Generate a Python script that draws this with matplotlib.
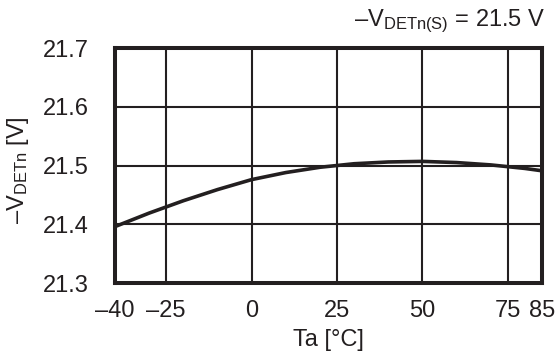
import matplotlib
matplotlib.use("Agg")
import matplotlib.pyplot as plt

# Detection voltage vs. ambient temperature
temp_c = [-40, -30, -20, -10, 0, 10, 20, 30, 40, 50, 60, 70, 80, 85]
vdet_v = [21.396, 21.419, 21.440, 21.459, 21.476, 21.488, 21.497,
          21.503, 21.506, 21.507, 21.505, 21.501, 21.495, 21.491]

x_ticks = [-40, -25, 0, 25, 50, 75, 85]
x_tick_labels = ["\u201340", "\u201325", "0", "25", "50", "75", "85"]
x_grid = [-25, 0, 25, 50, 75]
y_ticks = [21.3, 21.4, 21.5, 21.6, 21.7]
y_grid = [21.4, 21.5, 21.6]

ink = "#231f20"
plt.rcParams["font.family"] = ["Liberation Sans", "DejaVu Sans"]
plt.rcParams["mathtext.fontset"] = "custom"
plt.rcParams["mathtext.rm"] = "Liberation Sans"
plt.rcParams["mathtext.it"] = "Liberation Sans"
plt.rcParams["mathtext.default"] = "regular"

fig = plt.figure(figsize=(5.58, 3.61), dpi=100)
ax = fig.add_axes([115 / 558, 1 - 283 / 361, 427 / 558, 235 / 361])

for xg in x_grid:
    ax.axvline(xg, color=ink, lw=1.5, zorder=1)
for yg in y_grid:
    ax.axhline(yg, color=ink, lw=1.5, zorder=1)

ax.plot(temp_c, vdet_v, color=ink, lw=2.6, zorder=3, solid_capstyle="butt")

ax.set_xlim(-40, 85)
ax.set_ylim(21.3, 21.7)
ax.set_xticks(x_ticks)
ax.set_xticklabels(x_tick_labels)
ax.set_yticks(y_ticks)
ax.set_yticklabels([f"{v:.1f}" for v in y_ticks])
ax.tick_params(length=0, labelsize=17, colors=ink)
ax.tick_params(axis="y", pad=19)
ax.tick_params(axis="x", pad=12.5)

for sp in ax.spines.values():
    sp.set_linewidth(2.9)
    sp.set_color(ink)

ax.set_xlabel("Ta [\u00b0C]", fontsize=17, color=ink, labelpad=5)
fig.text(18 / 558, 1 - 170 / 361, "\u2013V$_{DETn}$ [V]", rotation=90,
         fontsize=17, color=ink, ha="center", va="center")
fig.text(545 / 558, 1 - 21 / 361, "\u2013V$_{DETn(S)}$ = 21.5 V",
         fontsize=17, color=ink, ha="right", va="center")

fig.savefig("out.png", dpi=100)
